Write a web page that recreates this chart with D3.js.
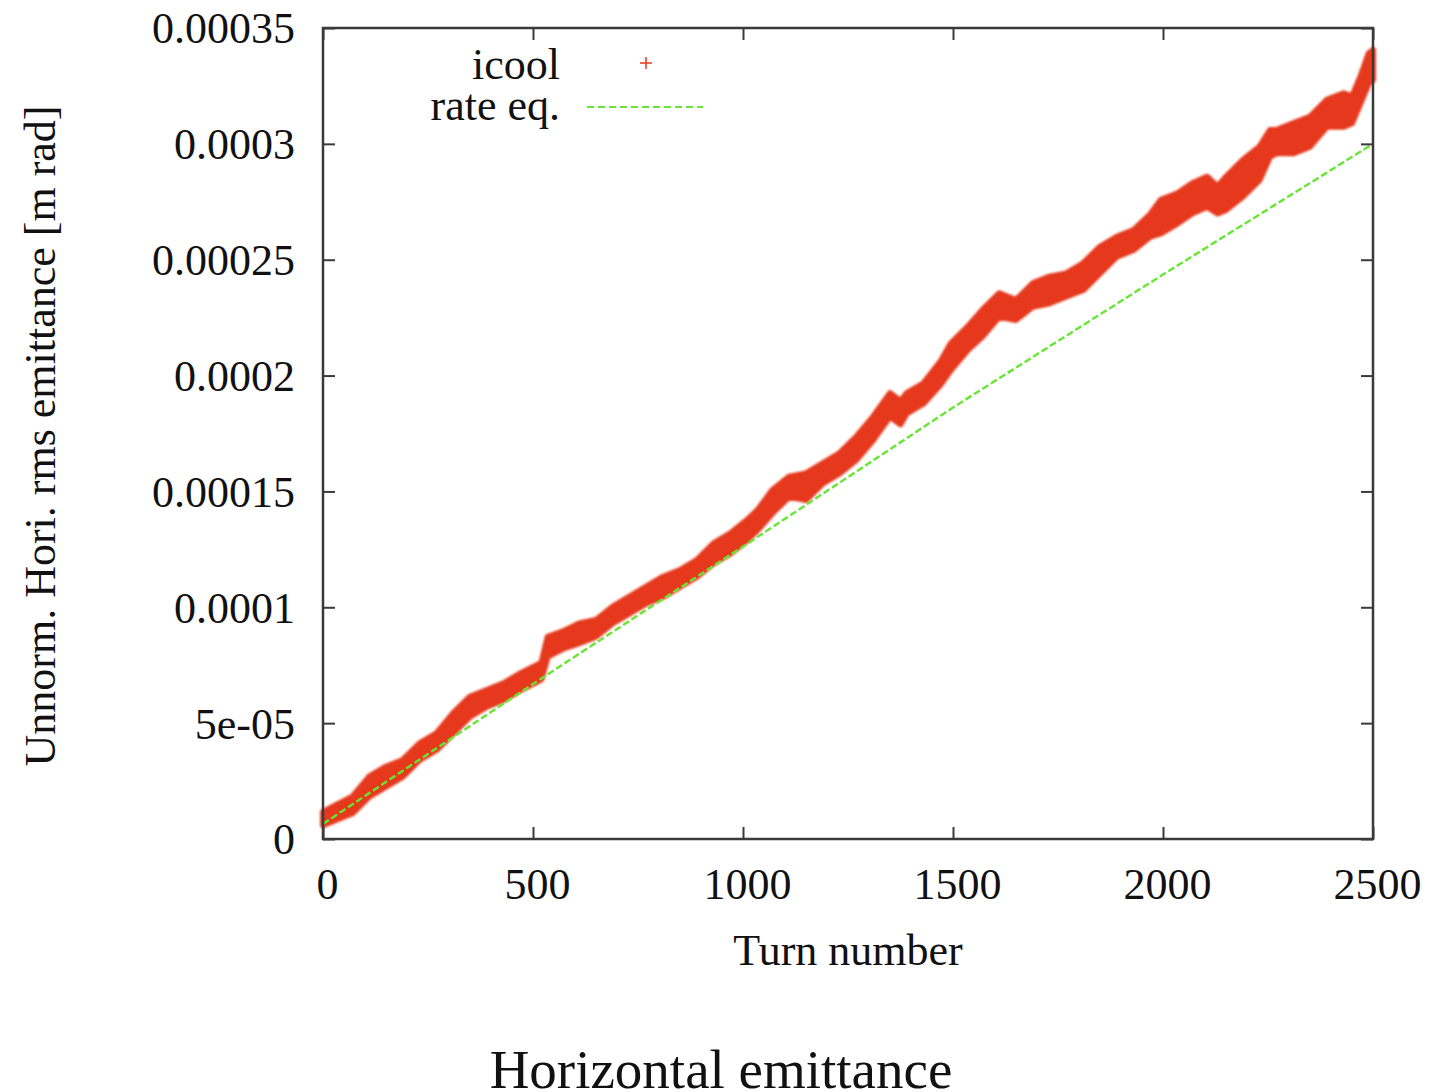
<!DOCTYPE html>
<html>
<head>
<meta charset="utf-8">
<script src="https://cdn.jsdelivr.net/npm/d3@7"></script>
<style>
  html, body { margin: 0; padding: 0; background: #fff; }
  svg { display: block; }
  text { font-family: "Liberation Serif", "DejaVu Serif", serif; fill: #111; }
</style>
</head>
<body>
<svg id="chart" width="1431" height="1092"></svg>
<script>
// ---- data ----
const xTicks = [0, 500, 1000, 1500, 2000, 2500];
const yTicks = [0, 0.00005, 0.0001, 0.00015, 0.0002, 0.00025, 0.0003, 0.00035];
const yTickLabels = ["0", "5e-05", "0.0001", "0.00015", "0.0002", "0.00025", "0.0003", "0.00035"];

// icool: turn number and lower / upper edge of the scatter band (units of 1e-5 m rad)
const icoolTurn = [0, 70, 110, 150, 190, 230, 270, 310, 350, 390, 430, 470, 510, 520, 535, 570, 610, 650, 690, 730,
  770, 810, 850, 890, 930, 970, 1010, 1035, 1070, 1110, 1150, 1190, 1230, 1270, 1310, 1350, 1375, 1390, 1430, 1470,
  1495, 1535, 1570, 1610, 1650, 1690, 1730, 1770, 1810, 1850, 1890, 1930, 1970, 1995, 2035, 2070, 2105, 2130, 2150, 2190,
  2230, 2255, 2270, 2310, 2350, 2390, 2430, 2450, 2470, 2490, 2500];
const icoolLow = [0.60, 1.11, 1.83, 2.26, 2.69, 3.41, 3.84, 4.56, 5.28, 5.71, 6.00, 6.43, 6.79, 6.90, 7.87, 8.20, 8.45, 8.73, 9.31, 9.74,
  10.17, 10.46, 10.89, 11.32, 11.90, 12.33, 12.90, 13.34, 14.06, 14.77, 14.63, 15.35, 15.78, 16.36, 17.22, 18.23, 17.90, 18.37, 18.80, 19.60,
  20.24, 21.10, 21.68, 22.54, 22.40, 22.97, 23.12, 23.41, 23.69, 24.41, 25.13, 25.42, 26.00, 26.14, 26.57, 27.00, 27.29, 27.00, 27.15, 27.72,
  28.44, 29.45, 29.59, 29.59, 29.88, 30.74, 30.74, 30.89, 31.75, 32.61, 32.76];
const icoolHigh = [1.17, 1.83, 2.69, 3.12, 3.41, 4.13, 4.56, 5.43, 6.14, 6.43, 6.72, 7.15, 7.51, 7.60, 8.73, 8.95, 9.30, 9.45, 10.03, 10.46,
  10.89, 11.32, 11.61, 12.04, 12.76, 13.19, 13.77, 14.20, 15.06, 15.64, 15.78, 16.21, 16.65, 17.36, 18.23, 19.24, 18.90, 19.24, 19.67, 20.60,
  21.39, 22.11, 22.83, 23.55, 23.26, 23.98, 24.27, 24.41, 24.85, 25.56, 25.99, 26.28, 26.97, 27.59, 27.87, 28.30, 28.58, 28.15, 28.58, 29.30,
  29.88, 30.60, 30.60, 30.89, 31.17, 31.90, 32.18, 32.04, 32.90, 33.91, 34.05];

// rate equation curve (units of 1e-5 m rad)
const rateTurn = [0, 500, 1000, 1500, 2000, 2500];
const rateValue = [0.65, 6.69, 12.62, 18.62, 24.36, 30.0];

const SCALE = 1e-5;

// ---- layout ----
const svg = d3.select("#chart");
const plotLeft = 323, plotRight = 1373, plotTop = 28, plotBottom = 839;
const x = d3.scaleLinear().domain([0, 2500]).range([plotLeft, plotRight]);
const y = d3.scaleLinear().domain([0, 0.00035]).range([plotBottom, plotTop]);

const red = "#e6391a";
const green = "#66e632";
const frameColor = "#3a3a3a";

const defs = svg.append("defs");
defs.append("filter").attr("id", "soft")
  .append("feGaussianBlur").attr("stdDeviation", 0.9);

// icool band
const band = icoolTurn.map((t, i) => ({ t, lo: icoolLow[i] * SCALE, hi: icoolHigh[i] * SCALE }));
svg.append("path")
  .datum(band)
  .attr("d", d3.area().x(d => x(d.t)).y0(d => y(d.lo)).y1(d => y(d.hi)))
  .attr("fill", red)
  .attr("stroke", red)
  .attr("stroke-width", 6)
  .attr("stroke-linejoin", "round")
  .attr("filter", "url(#soft)");

// rate eq. line
const rate = rateTurn.map((t, i) => ({ t, v: rateValue[i] * SCALE }));
svg.append("path")
  .datum(rate)
  .attr("d", d3.line().x(d => x(d.t)).y(d => y(d.v)))
  .attr("fill", "none")
  .attr("stroke", green)
  .attr("stroke-width", 2.4)
  .attr("stroke-dasharray", "7,3");

// frame
svg.append("rect")
  .attr("x", plotLeft).attr("y", plotTop)
  .attr("width", plotRight - plotLeft).attr("height", plotBottom - plotTop)
  .attr("fill", "none").attr("stroke", frameColor).attr("stroke-width", 2.5);

// axes with inward ticks (mirrored)
const tickLen = 12;
const fs = 44;

const gx = svg.append("g").attr("transform", `translate(0,${plotBottom})`)
  .call(d3.axisBottom(x).tickValues(xTicks).tickSize(-tickLen).tickPadding(0).tickFormat(d3.format("d")));
gx.select(".domain").remove();
gx.selectAll(".tick line").attr("stroke", frameColor).attr("stroke-width", 2);
gx.selectAll(".tick text").attr("y", 60).attr("dy", null).attr("dx", 4)
  .style("font-size", fs + "px").style("font-family", "Liberation Serif").attr("fill", "#111");

const gxt = svg.append("g").attr("transform", `translate(0,${plotTop})`)
  .call(d3.axisTop(x).tickValues(xTicks).tickSize(-tickLen).tickFormat(""));
gxt.select(".domain").remove();
gxt.selectAll(".tick line").attr("stroke", frameColor).attr("stroke-width", 2);

const gy = svg.append("g").attr("transform", `translate(${plotLeft},0)`)
  .call(d3.axisLeft(y).tickValues(yTicks).tickSize(-tickLen).tickPadding(28)
    .tickFormat((d, i) => yTickLabels[i]));
gy.select(".domain").remove();
gy.selectAll(".tick line").attr("stroke", frameColor).attr("stroke-width", 2);
gy.selectAll(".tick text").attr("dy", "0.34em")
  .style("font-size", fs + "px").style("font-family", "Liberation Serif").attr("fill", "#111");

const gyr = svg.append("g").attr("transform", `translate(${plotRight},0)`)
  .call(d3.axisRight(y).tickValues(yTicks).tickSize(-tickLen).tickFormat(""));
gyr.select(".domain").remove();
gyr.selectAll(".tick line").attr("stroke", frameColor).attr("stroke-width", 2);

// axis titles
svg.append("text")
  .attr("x", 848).attr("y", 965)
  .attr("text-anchor", "middle")
  .style("font-size", "44px")
  .text("Turn number");

svg.append("text")
  .attr("transform", "translate(55,436) rotate(-90)")
  .attr("text-anchor", "middle")
  .style("font-size", "44px")
  .text("Unnorm. Hori. rms emittance [m rad]");

// caption
svg.append("text")
  .attr("x", 721).attr("y", 1088)
  .attr("text-anchor", "middle")
  .style("font-size", "55px")
  .text("Horizontal emittance");

// legend
const legend = svg.append("g");
legend.append("text").attr("x", 560).attr("y", 79).attr("text-anchor", "end")
  .style("font-size", "44px").text("icool");
legend.append("g").attr("transform", "translate(646,63)")
  .selectAll("line").data([[-6, 0, 6, 0], [0, -6, 0, 6]]).join("line")
  .attr("x1", d => d[0]).attr("y1", d => d[1]).attr("x2", d => d[2]).attr("y2", d => d[3])
  .attr("stroke", red).attr("stroke-width", 2).attr("opacity", 0.75);
legend.append("text").attr("x", 560).attr("y", 120).attr("text-anchor", "end")
  .style("font-size", "44px").text("rate eq.");
legend.append("line")
  .attr("x1", 587).attr("x2", 703).attr("y1", 107).attr("y2", 107)
  .attr("stroke", green).attr("stroke-width", 2.2).attr("stroke-dasharray", "7,4");
</script>
</body>
</html>
